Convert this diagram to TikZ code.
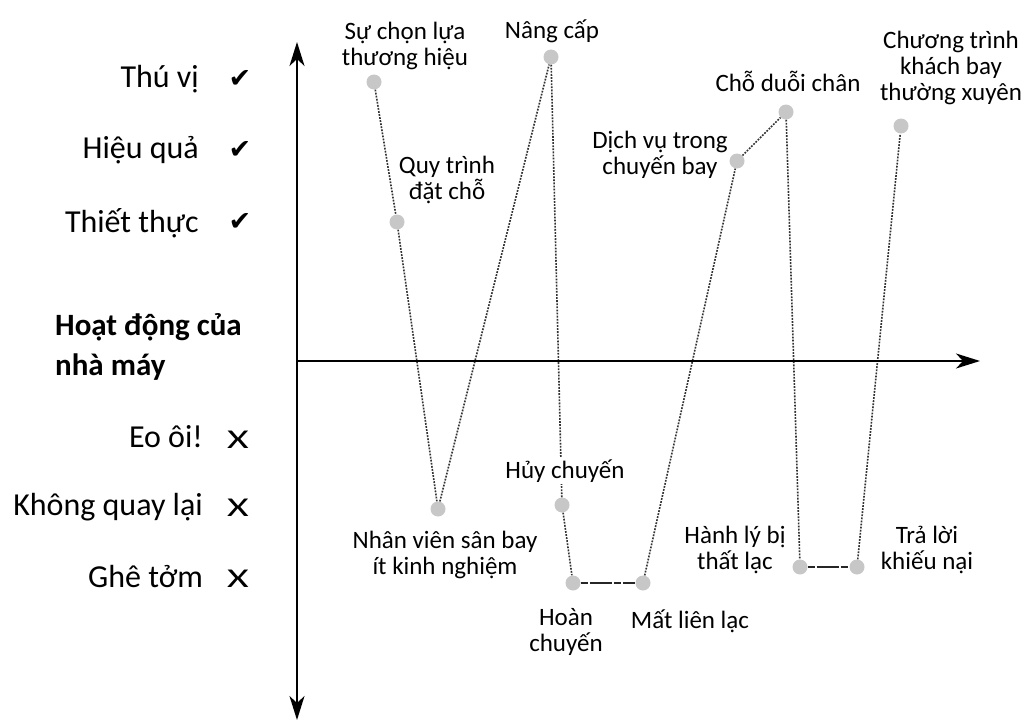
\documentclass[tikz,border=0pt]{standalone}
\usepackage{fontspec}
\setmainfont{Carlito}
\newfontfamily\symfont{DejaVu Sans}
\usetikzlibrary{arrows.meta,backgrounds}
\begin{document}
\begin{tikzpicture}[x=1pt,y=-1pt,
  dot/.style={circle, fill=black!22, inner sep=0pt, minimum size=15pt},
  lab/.style={font=\fontsize{25}{26}\selectfont, align=center, inner sep=0pt},
  leftlab/.style={font=\fontsize{32}{32}\selectfont, anchor=base east, inner sep=0pt},
  check/.style={font=\symfont\fontsize{27}{27}\selectfont, inner sep=0pt},
  cross/.style={font=\fontsize{32}{32}\selectfont, anchor=base, inner sep=0pt},
  link/.style={line width=1.6pt, black!80, dash pattern=on 1.8pt off 1.3pt},
  bar/.style={line width=2.2pt, black!85, dash pattern=on 7pt off 2pt on 22pt off 2pt},
  axis/.style={line width=1.8pt, black},
  tip/.tip={Stealth[length=24pt,width=15pt,inset=7pt]}
]
\useasboundingbox (0,0) rectangle (1026,725);

% axes
\coordinate (vtop) at (297,42);
\coordinate (vbot) at (297,720);
\coordinate (hstart) at (297,361);
\coordinate (hend) at (980,361);
\draw[axis, tip-tip] (vbot) -- (vtop);
\draw[axis, -tip] (hstart) -- (hend);

% left labels
\node[leftlab] (t1) at (199,88) {Thú vị};
\node[leftlab] (t2) at (199,158) {Hiệu quả};
\node[leftlab] (t3) at (199,232) {Thiết thực};
\node[check] (c1) at (240,79) {✔};
\node[check] (c2) at (240,150) {✔};
\node[check] (c3) at (240,222) {✔};
\node[font=\bfseries\fontsize{31}{40}\selectfont, align=left, anchor=north west, inner sep=0pt] (hd) at (55,313) {Hoạt động của\\nhà máy};
\node[leftlab] (b1) at (203,447) {Eo ôi!};
\node[leftlab] (b2) at (203,515) {Không quay lại};
\node[leftlab] (b3) at (203,587) {Ghê tởm};
\node[cross] (x1) at (238,448) {\scalebox{1.3}[0.85]{X}};
\node[cross] (x2) at (238,516) {\scalebox{1.3}[0.85]{X}};
\node[cross] (x3) at (238,587) {\scalebox{1.3}[0.85]{X}};

% points
\node[dot] (p1) at (374,82) {};
\node[dot] (p2) at (397,222) {};
\node[dot] (p3) at (438,509) {};
\node[dot] (p4) at (551,57) {};
\node[dot] (p5) at (562,505) {};
\node[dot] (p6) at (573,583) {};
\node[dot] (p7) at (643,583) {};
\node[dot] (p8) at (737,161) {};
\node[dot] (p9) at (786,112) {};
\node[dot] (p10) at (800,567) {};
\node[dot] (p11) at (857,567) {};
\node[dot] (p12) at (901,126) {};

% labels
\node[lab] (l1) at (405,46) {Sự chọn lựa\\thương hiệu};
\node[lab] (l4) at (552,31) {Nâng cấp};
\node[lab] (l2) at (447,180) {Quy trình\\đặt chỗ};
\node[lab] (l8) at (660,155) {Dịch vụ trong\\chuyến bay};
\node[lab] (l9) at (788,81) {Chỗ duỗi chân};
\node[lab] (l12) at (951,68) {Chương trình\\khách bay\\thường xuyên};
\node[lab, fill=white, inner sep=2pt] (l5) at (565,471) {Hủy chuyến};
\node[lab] (l3) at (445,555) {Nhân viên sân bay\\ít kinh nghiệm};
\node[lab] (l6) at (566,632) {Hoàn\\chuyến};
\node[lab] (l7) at (690,621) {Mất liên lạc};
\node[lab] (l10) at (735,550) {Hành lý bị\\thất lạc};
\node[lab] (l11) at (927,550) {Trả lời\\khiếu nại};

% connectors
\begin{pgfonlayer}{background}
\draw[link] (p1) -- (p2);
\draw[link] (p2) -- (p3);
\draw[link] (p3) -- (p4);
\draw[link] (p4) -- (p5);
\draw[link] (p5) -- (p6);
\draw[bar] (p6) -- (p7);
\draw[link] (p7) -- (p8);
\draw[link] (p8) -- (p9);
\draw[link] (p9) -- (p10);
\draw[bar] (p10) -- (p11);
\draw[link] (p11) -- (p12);
\end{pgfonlayer}
\end{tikzpicture}
\end{document}
